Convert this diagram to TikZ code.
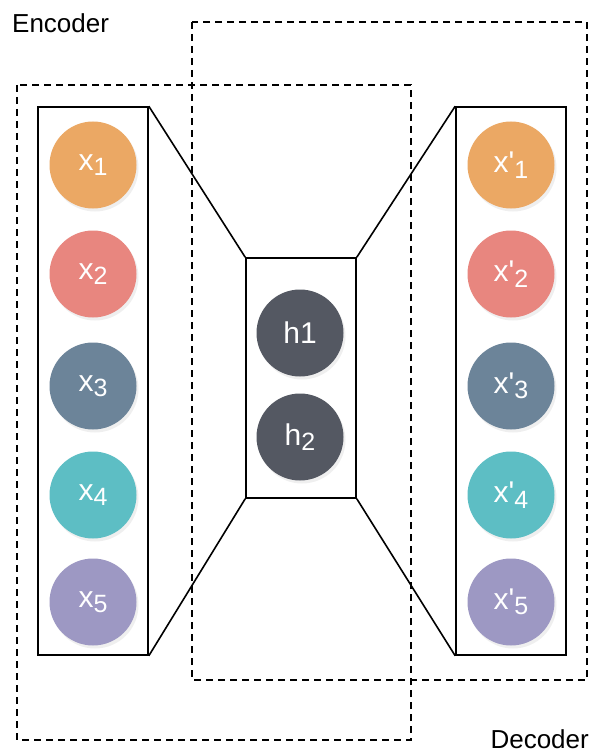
\documentclass[tikz,border=0pt]{standalone}
\usepackage{fontspec}
\setmainfont{Liberation Sans}
\usetikzlibrary{shadows}

\definecolor{cOrange}{HTML}{EBA864}
\definecolor{cRed}{HTML}{E8867F}
\definecolor{cSlate}{HTML}{6C8499}
\definecolor{cTeal}{HTML}{5DBEC4}
\definecolor{cPurple}{HTML}{9D98C3}
\definecolor{cDark}{HTML}{545862}

\newcommand{\lowidx}[1]{\raisebox{-0.35ex}{\fontsize{25}{25}\selectfont #1}}

\begin{document}
\begin{tikzpicture}[x=1pt,y=-1pt,
	unit/.style = {circle,
		minimum size = 87pt,
		inner sep = 0pt,
		text = white,
		font = \fontsize{30}{32}\selectfont,
		drop shadow = {opacity=0.12, shadow xshift=2pt, shadow yshift=-3pt}},
	layer/.style = {draw, line width=1.6pt, fill=white},
	group/.style = {draw, line width=1.6pt, dash pattern=on 7pt off 5pt},
	caption/.style = {font=\fontsize{26}{30}\selectfont, inner sep=0pt}]

	\useasboundingbox (0,0) rectangle (592,754);

	% Group frames
	\draw[group] (17,85) rectangle (411,740);
	\draw[group] (192,22) rectangle (587,680);

	% Captions
	\node[caption,anchor=west] (enc) at (12,23) {Encoder};
	\node[caption,anchor=east] (dec) at (589,739) {Decoder};

	% Layers
	\node[layer,minimum width=110pt,minimum height=548pt,inner sep=0pt] (in) at (93,381) {};
	\node[layer,minimum width=110pt,minimum height=240pt,inner sep=0pt] (hid) at (301,378) {};
	\node[layer,minimum width=110pt,minimum height=548pt,inner sep=0pt] (out) at (511,381) {};

	% Connections between layers
	\draw[line width=1.6pt] (in.north east) -- (hid.north west);
	\draw[line width=1.6pt] (in.south east) -- (hid.south west);
	\draw[line width=1.6pt] (hid.north east) -- (out.north west);
	\draw[line width=1.6pt] (hid.south east) -- (out.south west);

	% Input units
	\node[unit,fill=cOrange] (x1) at (93,165) {x\lowidx{1}};
	\node[unit,fill=cRed] (x2) at (93,274) {x\lowidx{2}};
	\node[unit,fill=cSlate] (x3) at (93,386) {x\lowidx{3}};
	\node[unit,fill=cTeal] (x4) at (93,495) {x\lowidx{4}};
	\node[unit,fill=cPurple] (x5) at (93,602) {x\lowidx{5}};

	% Hidden units
	\node[unit,fill=cDark] (h1) at (300,333) {h1};
	\node[unit,fill=cDark] (h2) at (300,437) {h\lowidx{2}};

	% Output units
	\node[unit,fill=cOrange] (y1) at (511,165) {x\textquotesingle\lowidx{1}};
	\node[unit,fill=cRed] (y2) at (511,274) {x\textquotesingle\lowidx{2}};
	\node[unit,fill=cSlate] (y3) at (511,386) {x\textquotesingle\lowidx{3}};
	\node[unit,fill=cTeal] (y4) at (511,495) {x\textquotesingle\lowidx{4}};
	\node[unit,fill=cPurple] (y5) at (511,602) {x\textquotesingle\lowidx{5}};

\end{tikzpicture}
\end{document}
